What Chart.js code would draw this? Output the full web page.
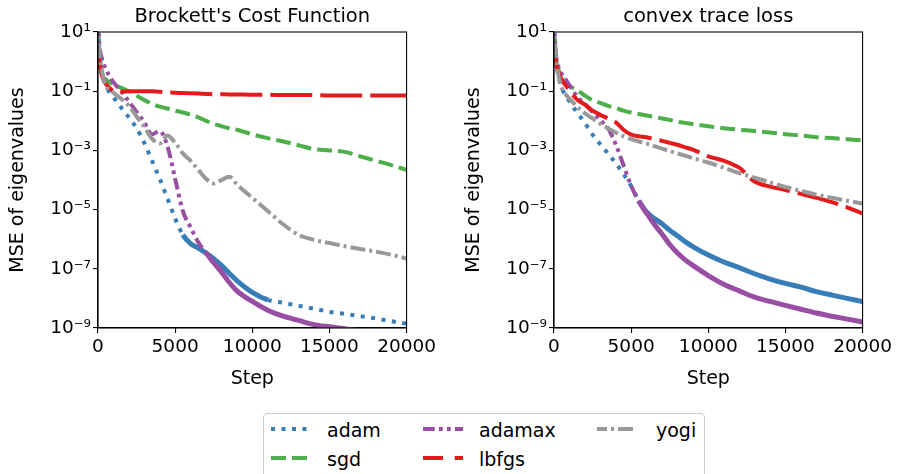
<!DOCTYPE html>
<html>
<head>
<meta charset="utf-8">
<title>MSE of eigenvalues</title>
<script src="https://cdn.jsdelivr.net/npm/chart.js@4.4.1/dist/chart.umd.min.js"></script>
<style>
  html, body { margin: 0; padding: 0; background: #fff; }
  body { width: 898px; height: 474px; position: relative; overflow: hidden; font-family: 'DejaVu Sans', sans-serif; }
  .panel { position: absolute; top: 0; width: 439px; height: 393px; }
  #legend { position: absolute; left: 263px; top: 413px; width: 442px; height: 72px;
            border: 1px solid #cccccc; border-radius: 4px; box-sizing: border-box; background: #fff; }
  #legend svg { position: absolute; width: 40px; height: 8px; }
  #legend span { position: absolute; font-size: 19px; line-height: 24px; color: #000; white-space: nowrap; }
</style>
</head>
<body>
<div class="panel" style="left:0px"><canvas id="ch-brockett"></canvas></div>
<div class="panel" style="left:456px"><canvas id="ch-trace"></canvas></div>

<div id="legend">
  <svg style="left:7px;top:11px"><line x1="0" y1="4" x2="40" y2="4" stroke="#377eb8" stroke-width="4" stroke-dasharray="4 6.5"/></svg>
  <span style="left:63px;top:4px">adam</span>
  <svg style="left:7px;top:40px"><line x1="0" y1="4" x2="40" y2="4" stroke="#4daf4a" stroke-width="4" stroke-dasharray="15 6"/></svg>
  <span style="left:63px;top:33px">sgd</span>
  <svg style="left:159px;top:11px"><line x1="0" y1="4" x2="40" y2="4" stroke="#984ea3" stroke-width="4" stroke-dasharray="11.7 4.3 3.7 4.3 3.7 4.3"/></svg>
  <span style="left:215px;top:4px">adamax</span>
  <svg style="left:159px;top:40px"><line x1="0" y1="4" x2="40" y2="4" stroke="#e41a1c" stroke-width="4" stroke-dasharray="20 11.7"/></svg>
  <span style="left:215px;top:33px">lbfgs</span>
  <svg style="left:333px;top:11px"><line x1="0" y1="4" x2="40" y2="4" stroke="#999999" stroke-width="4" stroke-dasharray="15 4 3 4" stroke-dashoffset="5"/></svg>
  <span style="left:392px;top:4px">yogi</span>
</div>

<script>
/* ── Data ── */
var steps = [0, 100, 250, 500, 750, 1000, 1500, 2000, 2500, 3000, 3500, 4000, 4500, 5000, 5500, 6000,
             6500, 7000, 7500, 8000, 8500, 9000, 10000, 11000, 12000, 13000, 14000, 15000, 16000,
             17000, 18000, 19000, 20000];

// Brockett's Cost Function
var brockettAdam = [32, 2.0, 0.40, 0.16, 8.9e-2, 6.3e-2, 2.8e-2, 1.3e-2, 5.6e-3, 1.8e-3, 4.5e-4, 1.1e-4,
  2.4e-5, 5.0e-6, 1.4e-6, 7.1e-7, 5.0e-7, 3.4e-7, 2.2e-7, 1.3e-7, 7.1e-8, 4.0e-8, 1.6e-8, 8.9e-9,
  7.1e-9, 5.6e-9, 4.5e-9, 3.5e-9, 3.0e-9, 2.5e-9, 2.1e-9, 1.7e-9, 1.4e-9];
var brockettSgd = [10, 1.6, 0.40, 0.25, 0.20, 0.17, 0.13, 0.10, 7.1e-2, 5.0e-2, 3.8e-2, 3.0e-2,
  2.6e-2, 2.2e-2, 1.9e-2, 1.6e-2, 1.3e-2, 1.0e-2, 7.9e-3, 6.6e-3, 5.6e-3, 5.0e-3, 3.5e-3, 2.6e-3,
  2.0e-3, 1.5e-3, 1.1e-3, 1.0e-3, 8.9e-4, 6.3e-4, 4.5e-4, 3.2e-4, 2.2e-4];
var brockettAdamax = [32, 3.2, 1.3, 0.56, 0.32, 0.20, 0.10, 4.5e-2, 2.0e-2, 8.9e-3, 3.5e-3, 4.5e-3,
  1.4e-3, 1.1e-4, 8.9e-6, 2.5e-6, 7.9e-7, 3.5e-7, 1.6e-7, 7.9e-8, 3.5e-8, 1.8e-8, 7.9e-9, 4.0e-9,
  2.5e-9, 1.8e-9, 1.3e-9, 1.1e-9, 9.5e-10, 7.9e-10, 7.1e-10, 6.3e-10, 5.6e-10];
var brockettLbfgs = [2.0, 0.79, 0.35, 0.18, 0.13, 0.10, 0.095, 0.10, 0.10, 0.10, 0.10, 0.095,
  0.093, 0.089, 0.087, 0.085, 0.083, 0.081, 0.079, 0.079, 0.078, 0.078, 0.076, 0.076, 0.074, 0.074,
  0.074, 0.072, 0.072, 0.072, 0.072, 0.072, 0.072];
var brockettYogi = [32, 2.0, 0.50, 0.16, 0.11, 8.9e-2, 5.6e-2, 3.2e-2, 1.4e-2, 6.3e-3, 2.5e-3, 1.7e-3,
  3.2e-3, 1.8e-3, 7.9e-4, 4.5e-4, 2.2e-4, 1.1e-4, 7.6e-5, 1.0e-4, 1.3e-4, 7.1e-5, 2.5e-5, 8.9e-6,
  3.2e-6, 1.4e-6, 9.5e-7, 7.4e-7, 5.8e-7, 4.7e-7, 3.8e-7, 3.0e-7, 2.2e-7];

// convex trace loss
var traceAdam = [32, 2.0, 0.40, 0.13, 7.1e-2, 4.5e-2, 1.9e-2, 8.5e-3, 3.4e-3, 1.6e-3, 7.9e-4, 3.7e-4,
  1.6e-4, 6.3e-5, 2.0e-5, 8.3e-6, 5.0e-6, 3.3e-6, 2.0e-6, 1.3e-6, 8.3e-7, 5.6e-7, 2.9e-7, 1.7e-7,
  1.1e-7, 6.8e-8, 4.5e-8, 3.2e-8, 2.4e-8, 1.7e-8, 1.3e-8, 1.0e-8, 7.8e-9];
var traceSgd = [32, 2.0, 0.63, 0.32, 0.20, 0.15, 0.11, 7.1e-2, 5.0e-2, 4.0e-2, 3.2e-2, 2.7e-2,
  2.2e-2, 1.9e-2, 1.7e-2, 1.5e-2, 1.35e-2, 1.2e-2, 1.07e-2, 9.3e-3, 8.5e-3, 7.8e-3, 6.5e-3, 5.6e-3,
  5.0e-3, 4.5e-3, 4.0e-3, 3.5e-3, 3.2e-3, 2.8e-3, 2.6e-3, 2.4e-3, 2.2e-3];
var traceAdamax = [32, 2.5, 0.79, 0.38, 0.25, 0.16, 6.6e-2, 3.7e-2, 2.0e-2, 1.05e-2, 5.6e-3, 1.6e-3,
  3.2e-4, 6.3e-5, 1.9e-5, 7.6e-6, 3.2e-6, 1.5e-6, 6.6e-7, 3.4e-7, 2.0e-7, 1.3e-7, 5.9e-8, 3.0e-8,
  1.8e-8, 1.1e-8, 7.9e-9, 5.8e-9, 4.3e-9, 3.2e-9, 2.5e-9, 2.0e-9, 1.6e-9];
var traceLbfgs = [2.5, 1.0, 0.50, 0.24, 0.16, 0.105, 5.2e-2, 3.5e-2, 2.2e-2, 1.6e-2, 1.2e-2, 8.9e-3,
  5.0e-3, 3.4e-3, 3.0e-3, 2.8e-3, 2.4e-3, 2.1e-3, 1.8e-3, 1.55e-3, 1.26e-3, 1.07e-3, 6.3e-4, 4.5e-4,
  2.6e-4, 8.9e-5, 6.0e-5, 4.6e-5, 3.4e-5, 2.5e-5, 1.8e-5, 1.2e-5, 7.4e-6];
var traceYogi = [32, 2.0, 0.45, 0.13, 7.9e-2, 5.6e-2, 3.0e-2, 1.8e-2, 1.2e-2, 7.9e-3, 5.6e-3, 4.0e-3,
  3.0e-3, 2.4e-3, 2.0e-3, 1.7e-3, 1.4e-3, 1.15e-3, 9.5e-4, 7.9e-4, 6.6e-4, 5.5e-4, 3.9e-4, 2.6e-4,
  1.7e-4, 1.2e-4, 8.3e-5, 5.8e-5, 4.3e-5, 3.2e-5, 2.5e-5, 2.0e-5, 1.6e-5];

var xTickStep = 5000;
var yTicks = [1e1, 1e-1, 1e-3, 1e-5, 1e-7, 1e-9];
var yTickLabels = ['10\u00b9', '10\u207b\u00b9', '10\u207b\u00b3', '10\u207b\u2075', '10\u207b\u2077', '10\u207b\u2079'];

/* ── Styles ── */
var FONT = "'DejaVu Sans', sans-serif";
var COLORS = { adam: '#377eb8', sgd: '#4daf4a', adamax: '#984ea3', lbfgs: '#e41a1c', yogi: '#999999' };

function points(vals) {
  return steps.map(function(s, i) { return { x: s, y: vals[i] }; });
}

// noisy runs show up as a solid band over a range of steps
function series(label, vals, color, dash, order, solid) {
  var ds = {
    label: label,
    data: points(vals),
    borderColor: color,
    borderWidth: 4,
    borderDash: dash,
    pointRadius: 0,
    fill: false,
    cubicInterpolationMode: 'monotone',
    order: order,
    clip: 0
  };
  if (solid) {
    var inBand = function(ctx) { return ctx.p0.parsed.x >= solid[0] && ctx.p0.parsed.x < solid[1]; };
    ds.segment = {
      borderDash: function(ctx) { return inBand(ctx) ? [] : dash; },
      borderWidth: function(ctx) { return inBand(ctx) ? 5 : 4; }
    };
  }
  return ds;
}

// axes frame + title centred on the plot area
var framePlugin = {
  id: 'frame',
  afterDraw: function(chart) {
    var a = chart.chartArea, c = chart.ctx;
    c.save();
    c.strokeStyle = '#000';
    c.lineWidth = 1.1;
    c.strokeRect(a.left, a.top, a.right - a.left, a.bottom - a.top);
    c.fillStyle = '#000';
    c.font = '19.5px ' + FONT;
    c.textAlign = 'center';
    c.textBaseline = 'alphabetic';
    c.fillText(chart.options.plugins.frame.title, (a.left + a.right) / 2, 22);
    c.restore();
  }
};

function axisGrid() {
  return { display: true, drawOnChartArea: false, drawTicks: true, tickLength: 5,
           color: '#000', tickColor: '#000', lineWidth: 1.1 };
}

function makeChart(id, title, data, bands) {
  return new Chart(document.getElementById(id), {
    type: 'line',
    data: {
      datasets: [
        series('adam', data[0], COLORS.adam, [4, 6.5], 5, bands.adam),
        series('sgd', data[1], COLORS.sgd, [15, 6], 4),
        series('adamax', data[2], COLORS.adamax, [11.7, 4.3, 3.7, 4.3, 3.7, 4.3], 3, bands.adamax),
        series('lbfgs', data[3], COLORS.lbfgs, [42, 8], 2),
        series('yogi', data[4], COLORS.yogi, [15, 4, 3, 4], 1)
      ]
    },
    options: {
      responsive: true,
      maintainAspectRatio: false,
      animation: false,
      layout: { padding: { top: 32, left: 0, right: 0, bottom: 0 } },
      plugins: {
        legend: { display: false },
        tooltip: { enabled: false },
        frame: { title: title }
      },
      scales: {
        x: {
          type: 'linear', min: 0, max: 20000,
          afterFit: function(s) { s.height = 65; },
          ticks: { stepSize: xTickStep, maxRotation: 0, autoSkip: false, padding: 3,
                   color: '#000', font: { family: FONT, size: 18.5 },
                   callback: function(v) { return String(v); } },
          grid: axisGrid(),
          border: { display: true, color: '#000', width: 1.1 },
          title: { display: true, text: 'Step', color: '#000', padding: { top: 8, bottom: 3 },
                   font: { family: FONT, size: 19 } }
        },
        y: {
          type: 'logarithmic', min: 1e-9, max: 10,
          afterBuildTicks: function(s) { s.ticks = yTicks.map(function(v) { return { value: v }; }); },
          afterFit: function(s) { s.width = 98; },
          ticks: {
            autoSkip: false, padding: 2, color: '#000', font: { family: FONT, size: 18.5 },
            callback: function(v) {
              for (var i = 0; i < yTicks.length; i++) {
                if (Math.abs(Math.log10(v) - Math.log10(yTicks[i])) < 1e-6) return yTickLabels[i];
              }
              return '';
            }
          },
          grid: axisGrid(),
          border: { display: true, color: '#000', width: 1.1 },
          title: { display: true, text: 'MSE of eigenvalues', color: '#000', padding: { top: 7, bottom: 0 },
                   font: { family: FONT, size: 19 } }
        }
      }
    },
    plugins: [framePlugin]
  });
}

makeChart('ch-brockett', "Brockett's Cost Function",
  [brockettAdam, brockettSgd, brockettAdamax, brockettLbfgs, brockettYogi],
  { adam: [5500, 11000], adamax: [7000, 99999] });
makeChart('ch-trace', 'convex trace loss',
  [traceAdam, traceSgd, traceAdamax, traceLbfgs, traceYogi],
  { adam: [5500, 99999], adamax: [5500, 99999] });
</script>
</body>
</html>
